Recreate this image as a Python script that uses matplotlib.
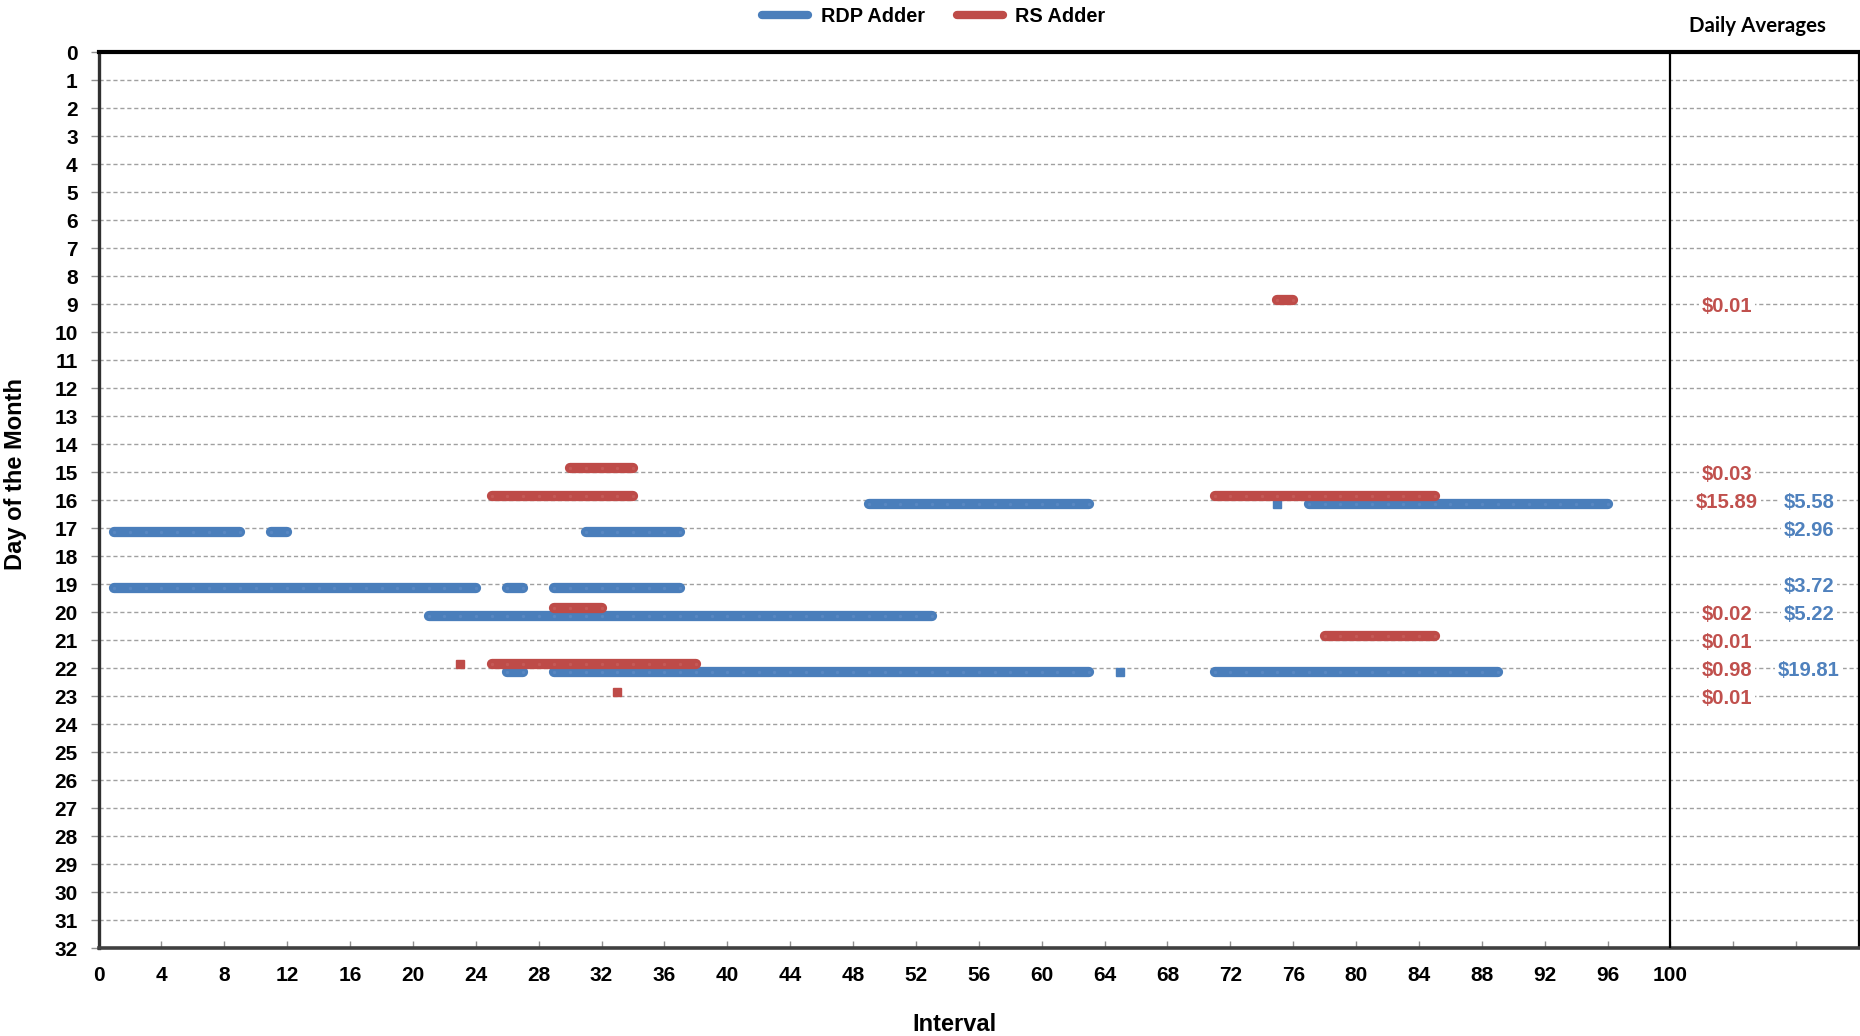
import matplotlib

matplotlib.use("Agg")
import matplotlib.pyplot as plt
import numpy as np
from matplotlib.lines import Line2D

# RDP adder runs: day, first interval, last interval
rdp_days = [16, 16, 16, 17, 17, 17, 19, 19, 19, 20, 22, 22, 22, 22]
rdp_start = [49, 75, 77, 1, 11, 31, 1, 26, 29, 21, 26, 29, 65, 71]
rdp_end = [63, 75, 96, 9, 12, 37, 24, 27, 37, 53, 27, 63, 65, 89]

# RS adder runs
rs_days = [9, 15, 16, 16, 20, 21, 22, 22, 23]
rs_start = [75, 30, 25, 71, 29, 78, 23, 25, 33]
rs_end = [76, 34, 34, 85, 32, 85, 23, 38, 33]

# daily averages
rdp_avg_days = [16, 17, 19, 20, 22]
rdp_avg = [5.58, 2.96, 3.72, 5.22, 19.81]
rs_avg_days = [9, 15, 16, 20, 21, 22, 23]
rs_avg = [0.01, 0.03, 15.89, 0.02, 0.01, 0.98, 0.01]

BLUE, BLUE_DOT = "#4A7EBB", "#5887C2"
RED, RED_DOT = "#BE4B48", "#C55956"
FONT = ["Liberation Sans", "DejaVu Sans"]

plt.rcParams["font.family"] = FONT
plt.rcParams["font.weight"] = "bold"

fig = plt.figure(figsize=(18.6, 10.36), dpi=100)
ax = fig.add_axes([0.053, 0.0849, 0.9465, 0.8649])


def draw_runs(days, starts, ends, offset, color, dot):
    for d, s, e in zip(days, starts, ends):
        x = np.arange(s, e + 1)
        y = np.full(len(x), d + offset, dtype=float)
        if len(x) == 1:
            ax.plot(x, y, ls="none", marker="s", ms=5.8, color=color,
                    mec=color, zorder=3)
        else:
            ax.plot(x, y, color=color, lw=7.4, solid_capstyle="round",
                    marker="o", ms=2.4, mfc=dot, mec="none", zorder=3)


draw_runs(rdp_days, rdp_start, rdp_end, 0.15, BLUE, BLUE_DOT)
draw_runs(rs_days, rs_start, rs_end, -0.15, RED, RED_DOT)

for d, v in zip(rs_avg_days, rs_avg):
    ax.text(103.6, d + 0.08, f"${v:.2f}", color="#C0504D", fontsize=14.6,
            weight="bold", ha="center", va="center", zorder=4,
            bbox=dict(facecolor="white", edgecolor="none", pad=2))
for d, v in zip(rdp_avg_days, rdp_avg):
    ax.text(108.8, d + 0.08, f"${v:.2f}", color="#4F81BD", fontsize=14.6,
            weight="bold", ha="center", va="center", zorder=4,
            bbox=dict(facecolor="white", edgecolor="none", pad=2))

ax.axvline(100, color="black", lw=1.6, zorder=5)

ax.set_xlim(0, 112)
ax.set_ylim(32, 0)
ax.set_xticks(np.arange(0, 112, 4))
ax.set_xticklabels([str(t) if t <= 100 else "" for t in range(0, 112, 4)])
ax.set_yticks(np.arange(0, 33, 1))
ax.tick_params(axis="x", direction="in", length=5, width=1, color="#909090",
               pad=13, labelsize=15)
ax.tick_params(axis="y", direction="out", length=6, width=1, color="#909090",
               pad=9, labelsize=15)

ax.yaxis.grid(True, color="#A0A0A0", lw=1.0, ls=(0, (3, 2)))
ax.set_axisbelow(True)

ax.spines["top"].set_linewidth(3.0)
ax.spines["top"].set_color("black")
ax.spines["left"].set_linewidth(2.4)
ax.spines["left"].set_color("#303030")
ax.spines["bottom"].set_linewidth(2.6)
ax.spines["bottom"].set_color("#404040")
ax.spines["right"].set_linewidth(1.6)
ax.spines["right"].set_color("black")

fig.text(0.5134, 0.011, "Interval", fontsize=17, weight="bold",
         ha="center", va="center")
fig.text(0.0085, 0.542, "Day of the Month", fontsize=17, weight="bold",
         rotation=90, ha="center", va="center")
fig.text(1757 / 1860, 1 - 26 / 1036, "Daily Averages", fontsize=14.8,
         weight="bold", ha="center", va="center", family=["Lato", "DejaVu Sans"])

handles = [
    Line2D([], [], color=BLUE, lw=6, solid_capstyle="round"),
    Line2D([], [], color=RED, lw=6, solid_capstyle="round"),
]
fig.legend(handles, ["RDP Adder", "RS Adder"], loc="center",
           bbox_to_anchor=(934 / 1860, 1 - 16 / 1036), ncol=2, frameon=False,
           fontsize=14.3, handlelength=2.3, handletextpad=0.65,
           columnspacing=1.6, borderpad=0)

fig.savefig("out.png", dpi=100)
